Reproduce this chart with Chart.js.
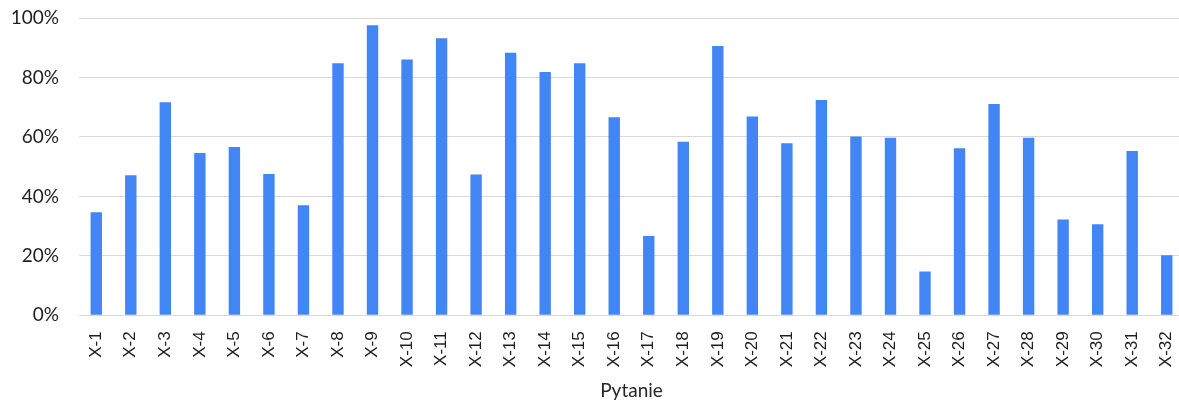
<!DOCTYPE html>
<html>
<head>
<meta charset="utf-8">
<script src="https://cdn.jsdelivr.net/npm/chart.js@4/dist/chart.umd.min.js"></script>
<style>
  html, body { margin: 0; padding: 0; background: #fff; overflow: hidden; }
  #wrap { width: 1184px; height: 403px; }
</style>
</head>
<body>
<div id="wrap"><canvas id="c" width="1184" height="403"></canvas></div>
<script>
// Share of correct answers per question (percent)
const categories = ['X-1','X-2','X-3','X-4','X-5','X-6','X-7','X-8','X-9','X-10','X-11','X-12','X-13','X-14','X-15','X-16',
  'X-17','X-18','X-19','X-20','X-21','X-22','X-23','X-24','X-25','X-26','X-27','X-28','X-29','X-30','X-31','X-32'];
const values = [34.7, 47.1, 71.7, 54.6, 56.6, 47.5, 37.0, 84.8, 97.6, 86.0, 93.2, 47.4, 88.3, 81.8, 84.8, 66.6,
  26.7, 58.4, 90.6, 66.9, 57.9, 72.4, 60.1, 59.7, 14.7, 56.2, 71.1, 59.7, 32.2, 30.6, 55.3, 20.2];
const yTicks = [0, 20, 40, 60, 80, 100];
const axisTitle = 'Pytanie';

new Chart(document.getElementById('c'), {
  type: 'bar',
  data: {
    labels: categories,
    datasets: [{
      data: values,
      backgroundColor: '#4285F4',
      borderWidth: 0,
      categoryPercentage: 1,
      barPercentage: 0.33
    }]
  },
  options: {
    responsive: false,
    animation: false,
    devicePixelRatio: 1,
    layout: { padding: 0 },
    plugins: { legend: { display: false }, tooltip: { enabled: false } },
    scales: {
      x: {
        grid: { display: false, drawTicks: false },
        border: { display: false },
        ticks: {
          minRotation: 90, maxRotation: 90, autoSkip: false,
          padding: 16,
          color: '#1f1f1f',
          font: { family: 'Liberation Sans, Arial, sans-serif', size: 17 }
        },
        title: {
          display: true, text: axisTitle, color: '#262626',
          font: { family: 'Lato, Calibri, sans-serif', size: 19 },
          padding: { top: 4, bottom: 1 }
        },
        afterFit: s => { s.height = 87.7; s.paddingLeft = 0; s.paddingRight = 0; }
      },
      y: {
        min: 0, max: 100,
        afterBuildTicks: s => { s.ticks = yTicks.map(v => ({ value: v })); },
        grid: { color: '#d9d9d9', lineWidth: 1, drawTicks: false },
        border: { display: false },
        ticks: {
          padding: 20,
          color: '#1f1f1f',
          font: { family: 'Lato, Calibri, sans-serif', size: 19 },
          callback: v => v + '%'
        },
        afterFit: s => { s.width = 79; s.paddingTop = 18; s.paddingBottom = 0; }
      }
    }
  }
});
</script>
</body>
</html>
